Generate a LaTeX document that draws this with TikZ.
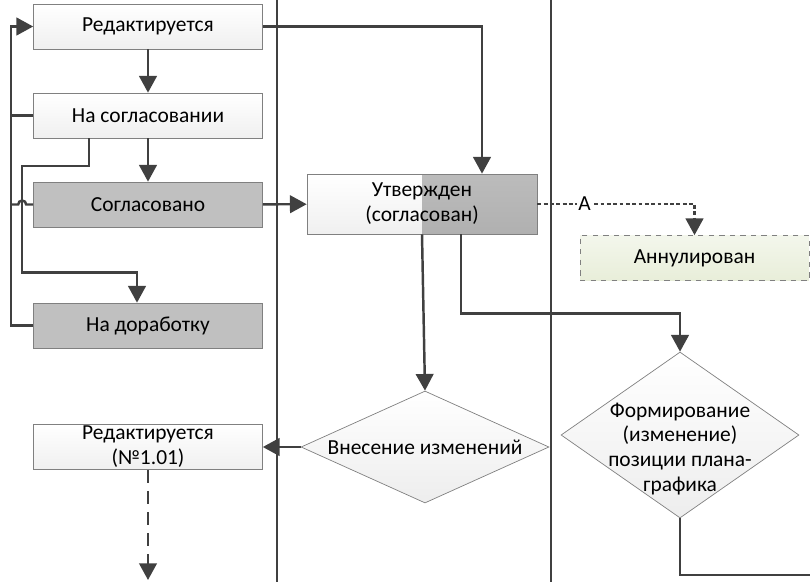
\documentclass[tikz,border=0pt]{standalone}
\usepackage{fontspec}
\setmainfont{Carlito}
\usepackage{tikz}
\usetikzlibrary{calc}
\usetikzlibrary{arrows.meta}
\usetikzlibrary{shapes.geometric}
\definecolor{lineclr}{HTML}{404040}
\definecolor{boxedge}{HTML}{808080}
\definecolor{darkbox}{HTML}{C0C0C0}
\definecolor{utvdark}{HTML}{B0B0B0}
\definecolor{annulfill}{HTML}{E8EED9}

\begin{document}
\begin{tikzpicture}[x=0.02cm, y=-0.02cm, font=\fontsize{12.2}{14.2}\selectfont,
  conn/.style={draw=lineclr, line width=1.4pt},
  arr/.style={conn, -{Triangle[length=9.5pt,width=10pt]}},
  dotarr/.style={arr, dash pattern=on 2.2pt off 1.4pt},
  dasharr/.style={arr, dash pattern=on 7.5pt off 4.5pt},
  box/.style={draw=boxedge, top color=white, bottom color=gray!12, minimum width=4.58cm, minimum height=0.9cm, inner sep=0pt, align=center},
  darkbx/.style={box, top color=darkbox, bottom color=darkbox},
  dmd/.style={diamond, draw=boxedge, top color=white, bottom color=gray!14, inner sep=0pt, align=center}]
\useasboundingbox (0,0) rectangle (810,582);

\draw[conn] (277,0) -- (277,582);
\draw[conn] (551,0) -- (551,582);

\node[box] (red1) at (148,26.5) {Редактируется};
\node[box] (soglas) at (148,115.5) {На согласовании};
\node[darkbx] (sogl) at (148,204.5) {Согласовано};
\node[darkbx] (dorab) at (148,325.5) {На доработку};
\node[box] (red2) at (148,447) {Редактируется\\(№1.01)};
\node[box, minimum width=4.6cm, minimum height=1.2cm,
  path picture={\fill[top color=utvdark!85, bottom color=utvdark] (path picture bounding box.north) rectangle (path picture bounding box.south east);}] (utv) at (422,204) {Утвержден\\(согласован)};
\node[box, dashed, top color=annulfill!50, bottom color=annulfill] (annul) at (694.5,258) {Аннулирован};
\node[dmd, aspect=2.2, minimum width=4.96cm, minimum height=2.24cm] (vnes) at (425,447) {Внесение изменений};
\node[dmd, minimum width=4.76cm, minimum height=3.32cm] (form) at (680,435) {};
\node[align=center, inner sep=0pt] (formtxt) at (680,449) {Формирование\\(изменение)\\позиции плана-\\графика};

\coordinate (down) at (148,580);
\coordinate (exit) at (810,575);

\draw[arr] (red1) -- (soglas);
\draw[arr] (soglas) -- (sogl);
\draw[arr] ($(soglas.south)+(-59,0)$) |- (22,166) |- ($(dorab.north)+(-11,-30)$) -- ($(dorab.north)+(-11,0)$);
\draw[arr] (dorab.west) -- ++(-22,0) |- (red1.west);
\draw[conn] (soglas.west) -- ++(-22,0);
\draw[conn] (sogl.west) -- ++(-7,0) arc[start angle=0, end angle=-180, radius=4] -- ++(-7,0);
\draw[arr] (red1.east) -| ($(utv.north)+(60,0)$);
\draw[arr] (sogl) -- (utv);
\draw[dotarr] (utv.east) -| node[pos=0.15, fill=white, inner sep=0.5pt] (lblA) {А} (annul.north);
\draw[arr] (utv.south) -- (vnes.north);
\draw[arr] ($(utv.south)+(39,0)$) -- ++(0,79) -| (form.north);
\draw[arr] (vnes.west) -- (red2.east);
\draw[dasharr] (red2.south) -- (down);
\draw[conn] (form.south) |- (exit);
\end{tikzpicture}
\end{document}
